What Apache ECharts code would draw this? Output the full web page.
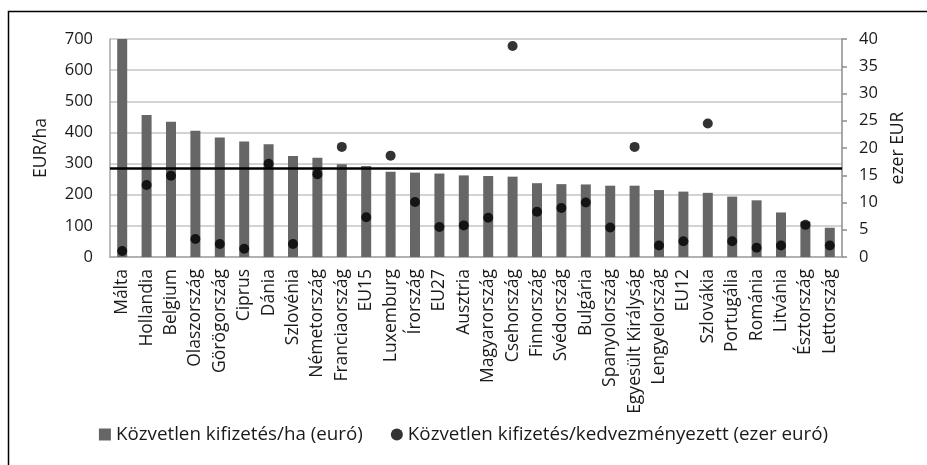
<!DOCTYPE html>
<html>
<head>
<meta charset="utf-8">
<script src="https://cdn.jsdelivr.net/npm/echarts@6/dist/echarts.min.js"></script>
<style>
  html, body { margin: 0; padding: 0; background: #fff; }
  #chart { width: 927px; height: 465px; }
</style>
</head>
<body>
<div id="chart"></div>
<script>
// Countries and EU aggregates, ordered by payment per hectare
const categories = [
  'Málta', 'Hollandia', 'Belgium', 'Olaszország', 'Görögország', 'Ciprus', 'Dánia',
  'Szlovénia', 'Németország', 'Franciaország', 'EU15', 'Luxemburg', 'Írország', 'EU27',
  'Ausztria', 'Magyarország', 'Csehország', 'Finnország', 'Svédország', 'Bulgária',
  'Spanyolország', 'Egyesült Királyság', 'Lengyelország', 'EU12', 'Szlovákia',
  'Portugália', 'Románia', 'Litvánia', 'Észtország', 'Lettország'
];

// Direct payment per hectare (EUR)
const perHectare = [
  700, 456, 434, 405, 384, 371, 362, 324, 319, 298, 292, 274, 271, 268,
  262, 260, 258, 237, 234, 233, 229, 229, 215, 210, 206, 194, 182, 143, 114, 94
];

// Direct payment per beneficiary (thousand EUR)
const perBeneficiary = [
  1.1, 13.2, 14.9, 3.3, 2.4, 1.5, 17.1, 2.4, 15.2, 20.2, 7.3, 18.6, 10.1, 5.5,
  5.8, 7.2, 38.7, 8.3, 9.0, 10.0, 5.4, 20.2, 2.1, 2.9, 24.5, 2.9, 1.7, 2.1, 5.9, 2.1
];

// Reference level drawn across the plot (EUR/ha)
const referenceLevel = 285;

const leftTicks = { min: 0, max: 700, interval: 100 };
const rightTicks = { min: 0, max: 40, interval: 5 };

const seriesNames = [
  'Közvetlen kifizetés/ha (euró)',
  'Közvetlen kifizetés/kedvezményezett (ezer euró)'
];

const FONT = '"Open Sans"';
const TEXT = '#1a1a1a';

const chart = echarts.init(document.getElementById('chart'), null, { renderer: 'canvas' });

chart.setOption({
  animation: false,
  textStyle: { fontFamily: FONT, color: TEXT },
  graphic: [{
    type: 'rect',
    left: 6, top: 9,
    shape: { width: 960, height: 500 },
    style: { fill: 'none', stroke: '#000', lineWidth: 1.5 },
    silent: true
  }],
  grid: { left: 110, right: 85, top: 39, bottom: 208, containLabel: false },
  legend: {
    top: 420,
    left: 'center',
    itemGap: 28,
    itemWidth: 12,
    itemHeight: 12,
    textStyle: { fontFamily: FONT, fontSize: 18.8, color: TEXT },
    data: [
      { name: seriesNames[0], icon: 'rect', itemStyle: { color: '#666' } },
      { name: seriesNames[1], icon: 'circle', itemStyle: { color: '#000' } }
    ]
  },
  xAxis: {
    type: 'category',
    data: categories,
    axisLine: { show: true, lineStyle: { color: '#a6a6a6', width: 1.5 } },
    axisTick: { show: false },
    axisLabel: {
      interval: 0,
      rotate: 90,
      margin: 12,
      fontFamily: FONT,
      fontSize: 17.5,
      color: TEXT
    }
  },
  yAxis: [{
    type: 'value',
    min: leftTicks.min, max: leftTicks.max, interval: leftTicks.interval,
    name: 'EUR/ha',
    nameLocation: 'middle',
    nameRotate: 90,
    nameGap: 60,
    nameTextStyle: { fontFamily: FONT, fontSize: 17.5, color: TEXT },
    axisLine: { show: true, lineStyle: { color: '#a6a6a6', width: 1.5 } },
    axisTick: { show: false },
    axisLabel: { fontFamily: FONT, fontSize: 16.5, color: TEXT, margin: 17 },
    splitLine: { show: true, lineStyle: { color: '#c4c4c4', width: 1.5 } }
  }, {
    type: 'value',
    position: 'right',
    min: rightTicks.min, max: rightTicks.max, interval: rightTicks.interval,
    name: 'ezer EUR',
    nameLocation: 'middle',
    nameRotate: 90,
    nameGap: 46,
    nameTextStyle: { fontFamily: FONT, fontSize: 17.5, color: TEXT },
    axisLine: { show: true, lineStyle: { color: '#8c8c8c', width: 1.5 } },
    axisTick: { show: true, inside: false, length: 5, lineStyle: { color: '#8c8c8c', width: 1.5 } },
    axisLabel: { fontFamily: FONT, fontSize: 16.5, color: TEXT, margin: 17 },
    splitLine: { show: false }
  }],
  series: [{
    name: seriesNames[0],
    type: 'bar',
    yAxisIndex: 0,
    data: perHectare,
    barWidth: 10,
    itemStyle: { color: '#666' },
    markLine: {
      silent: true,
      symbol: 'none',
      label: { show: false },
      lineStyle: { color: '#000', width: 2.5, type: 'solid' },
      data: [{ yAxis: referenceLevel }]
    }
  }, {
    name: seriesNames[1],
    type: 'scatter',
    yAxisIndex: 1,
    data: perBeneficiary,
    symbol: 'circle',
    symbolSize: 10,
    itemStyle: { color: '#000' },
    z: 5
  }]
});
</script>
</body>
</html>
